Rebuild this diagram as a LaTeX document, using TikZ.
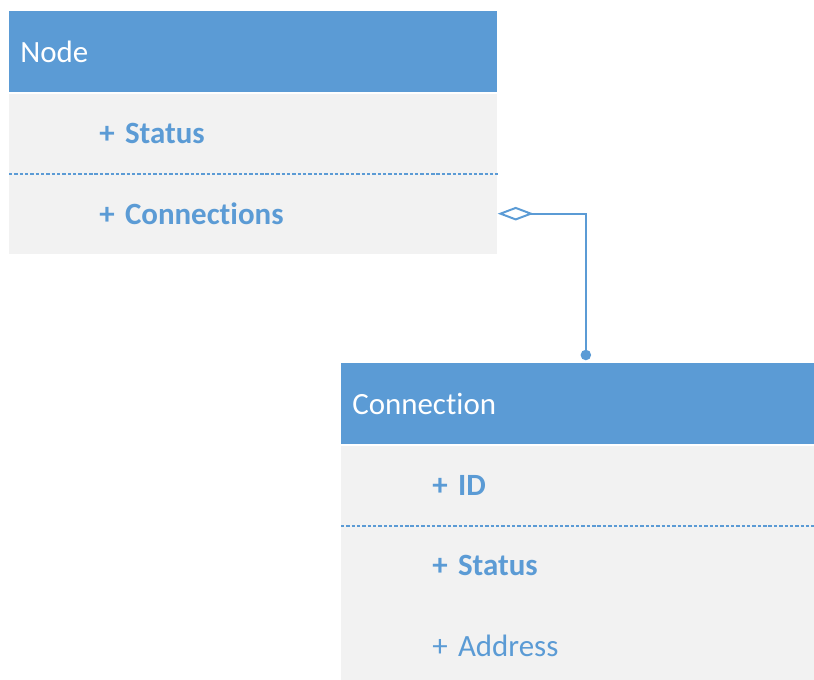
\documentclass[tikz,border=0pt]{standalone}
\usepackage{fontspec}
\setmainfont{Carlito}[Ligatures={NoCommon,NoRare},Contextuals=NoAlternate]
\usetikzlibrary{arrows.meta}
\definecolor{umlblue}{HTML}{5B9BD5}
\definecolor{umlgray}{HTML}{F2F2F2}
\tikzstyle{assoc} = [umlblue,line width=1.4pt,{Diamond[open,length=0.9cm,width=0.34cm,line width=1.4pt]}-{Circle[length=0.26cm]}]

\begin{document}
\begin{tikzpicture}
        [
            x=0.025cm, y=-0.025cm,
            head/.style={rectangle,fill=umlblue,text=white,anchor=north west,align=left,
                minimum height=2.025cm,inner xsep=0.275cm,font=\fontsize{22}{26}\selectfont},
            row/.style={rectangle,fill=umlgray,text=umlblue,anchor=north west,align=left,
                minimum height=2cm,inner xsep=2.25cm,font=\fontsize{22}{26}\selectfont\bfseries},
            sep/.style={umlblue,line width=1.3pt,dash pattern=on 2.4pt off 1.4pt},
        ]
    \useasboundingbox (0,0) rectangle (814,679);
    \clip (0,0) rectangle (814,679);

    % class Node
    \node[head,text width=11.65cm] (nodehead) at (9,11){Node};
    \node[row,text width=7.7cm] (nodestatus) at ([yshift=-0.025cm]nodehead.south west){+ Status};
    \node[row,text width=7.7cm] (nodeconns) at ([yshift=0.02cm]nodestatus.south west){+ Connections};
    \draw[sep] ([yshift=-0.015cm]nodeconns.north west) -- ([yshift=-0.015cm]nodeconns.north east);

    % class Connection
    \node[head,text width=11.275cm] (connhead) at (341,363){Connection};
    \node[row,text width=7.275cm,inner xsep=2.275cm] (connid) at ([yshift=-0.025cm]connhead.south west){+ ID};
    \node[row,text width=7.275cm,inner xsep=2.275cm] (connstatus) at ([yshift=0.02cm]connid.south west){+ Status};
    \node[row,text width=7.275cm,inner xsep=2.275cm,font=\fontsize{22}{26}\selectfont] (connaddr) at ([yshift=0.02cm]connstatus.south west){+ Address};
    \draw[sep] ([yshift=-0.015cm]connstatus.north west) -- ([yshift=-0.015cm]connstatus.north east);

    \draw[assoc] (nodeconns.east) -| ([xshift=0.2cm,yshift=0.07cm]connhead.north);
    \end{tikzpicture}
\end{document}
